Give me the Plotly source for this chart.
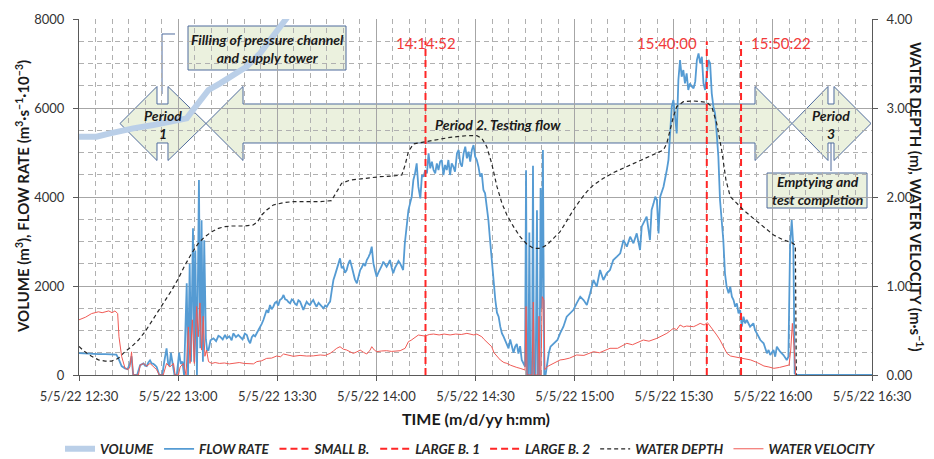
import pandas as pd
import plotly.graph_objects as go

# ---------------------------------------------------------------- data
# Time is given in minutes after 5/5/22 12:30.
START = pd.Timestamp("2022-05-05 12:30:00")

volume_readings = [  # (minute, m3)
    (0.0, 5355), (5.3, 5355), (9.4, 5430), (12.4, 5489), (16.4, 5542),
    (22.5, 5617), (28.5, 5692), (32.6, 5768), (34.1, 5917), (36.6, 6179),
    (39.2, 6404), (42.7, 6554), (46.7, 6741), (50.7, 6928), (54.8, 7228),
    (58.8, 7602), (62.8, 8014), (66.0, 8400),
]

flow_readings = [  # (minute, m3/s x 1e-3)
    (0.0, 490), (2.0, 480), (4.0, 475), (6.0, 470), (8.0, 470), (10.0, 465),
    (11.3, 460), (11.9, 380), (12.9, 200), (13.9, 150), (14.7, 130), (15.4, 250),
    (15.9, 420), (16.4, 0), (17.6, 0), (18.5, 220), (19.0, 240), (19.5, 260),
    (20.0, 210), (20.5, 200), (21.0, 280), (21.5, 330), (22.0, 260), (22.5, 250),
    (23.0, 220), (23.5, 180), (24.3, 0), (25.2, 0), (25.8, 300), (26.5, 600),
    (27.0, 250), (27.4, 200), (27.8, 500), (28.3, 300), (28.9, 0), (29.6, 0),
    (30.3, 500), (30.8, 250), (31.3, 300), (31.8, 0), (32.6, 2060), (33.0, 0),
    (33.5, 2500), (33.9, 300), (34.5, 3300), (34.9, 300), (35.2, 2800), (35.7, 0),
    (36.3, 4380), (36.7, 600), (37.1, 3480), (37.5, 300), (37.9, 3030), (38.4, 800),
    (38.8, 550), (39.2, 560), (39.8, 780), (40.7, 824), (41.5, 760), (42.2, 880),
    (42.7, 861), (43.5, 800), (44.2, 900), (44.7, 824), (45.5, 870), (46.2, 780),
    (46.7, 936), (47.5, 850), (48.2, 900), (48.7, 861), (49.5, 800), (50.2, 930),
    (50.8, 899), (51.3, 780), (51.8, 712), (52.3, 850), (52.8, 899), (53.3, 870),
    (53.8, 936), (54.3, 1000), (54.8, 1086), (55.3, 1150), (55.8, 1236), (56.3, 1350),
    (56.8, 1460), (57.3, 1400), (57.8, 1573), (58.3, 1480), (58.8, 1535), (59.3, 1620),
    (59.8, 1648), (60.3, 1560), (60.8, 1685), (61.4, 1720), (61.9, 1798), (62.4, 1700),
    (62.9, 1685), (63.4, 1640), (63.9, 1610), (64.4, 1700), (64.9, 1670), (65.4, 1600),
    (65.9, 1573), (66.4, 1680), (66.9, 1648), (67.4, 1560), (67.9, 1460), (68.4, 1560),
    (68.9, 1648), (69.4, 1600), (69.9, 1573), (70.4, 1640), (70.9, 1685), (71.4, 1600),
    (71.9, 1535), (72.5, 1620), (73.0, 1573), (73.5, 1520), (74.0, 1498), (74.5, 1560),
    (75.0, 1535), (75.5, 1600), (76.0, 1648), (76.5, 1900), (77.0, 2135), (77.5, 2250),
    (78.0, 2359), (78.5, 2500), (79.0, 2621), (79.5, 2400), (80.0, 2434), (80.5, 2300),
    (81.0, 2359), (81.5, 2500), (82.0, 2584), (82.5, 2450), (83.0, 2322), (83.5, 2150),
    (84.1, 2060), (84.6, 2250), (85.1, 2359), (85.6, 2420), (86.1, 2509), (86.6, 2450),
    (87.1, 2584), (87.6, 2650), (88.1, 2734), (88.6, 2884), (89.1, 2509), (89.6, 2350),
    (90.1, 2210), (90.6, 2300), (91.1, 2359), (91.6, 2450), (92.1, 2547), (92.6, 2480),
    (93.1, 2434), (93.6, 2500), (94.1, 2584), (94.6, 2420), (95.1, 2285), (95.6, 2400),
    (96.2, 2509), (96.7, 2560), (97.2, 2509), (97.7, 2420), (98.1, 2359), (98.6, 2950),
    (99.2, 3400), (99.7, 3707), (100.2, 3857), (100.7, 4007), (101.2, 4382), (101.7, 4531),
    (102.2, 4756), (102.7, 4232), (103.3, 3970), (103.8, 4494), (104.3, 4457), (104.8, 4606),
    (105.3, 4531), (105.8, 4981), (106.3, 4644), (106.8, 4794), (107.3, 4606), (107.8, 4531),
    (108.3, 4756), (108.8, 4606), (109.3, 4794), (109.8, 4831), (110.3, 4494), (110.8, 4719),
    (111.3, 4606), (111.8, 4831), (112.3, 4494), (112.8, 4756), (113.3, 4681), (113.8, 4569),
    (114.4, 4981), (114.9, 5056), (115.4, 4756), (115.9, 4681), (116.4, 4981), (116.9, 5131),
    (117.4, 4869), (117.9, 5018), (118.4, 4794), (118.9, 5056), (119.4, 5168), (119.9, 4906),
    (120.4, 4831), (120.9, 4681), (121.4, 4457), (121.9, 4531), (122.4, 4157), (122.9, 4082),
    (123.4, 3782), (123.9, 3483), (124.4, 3033), (124.9, 2584), (125.5, 2135), (126.0, 1685),
    (126.5, 1400), (127.0, 1311), (127.5, 1086), (128.0, 936), (128.5, 861), (129.0, 786),
    (129.5, 700), (130.0, 600), (130.5, 800), (131.0, 650), (131.5, 500), (132.0, 637),
    (132.5, 700), (133.0, 480), (133.5, 650), (134.0, 337), (134.5, 250), (135.0, 187),
    (135.3, 4600), (135.6, 0), (136.0, 0), (136.3, 3200), (136.6, 0), (137.1, 0),
    (137.4, 4700), (137.7, 0), (138.2, 0), (138.6, 3700), (138.9, 0), (139.4, 0),
    (139.7, 4200), (140.0, 1500), (140.4, 5056), (140.8, 0), (141.2, 0), (141.7, 300),
    (142.2, 500), (142.7, 637), (143.7, 700), (144.8, 786), (145.6, 936), (146.6, 1086),
    (147.6, 1311), (148.6, 1386), (149.6, 1460), (150.6, 1610), (151.7, 1760), (152.7, 1685),
    (153.7, 1573), (154.7, 1835), (155.7, 2135), (156.7, 1985), (157.7, 2359), (158.7, 2135),
    (159.7, 2284), (160.7, 2359), (161.7, 2584), (162.8, 2659), (163.8, 2734), (164.8, 3033),
    (165.8, 2884), (166.8, 3108), (167.8, 2959), (168.8, 3183), (169.8, 2809), (170.3, 3333),
    (170.8, 3408), (171.8, 3558), (172.8, 3033), (173.3, 3708), (173.9, 3857), (174.4, 4007),
    (174.9, 3932), (175.4, 3183), (175.9, 4007), (176.9, 4232), (177.9, 4606), (178.4, 4831),
    (178.9, 5430), (179.4, 6029), (179.9, 6179), (180.4, 5730), (180.9, 5430), (181.4, 6629),
    (181.9, 7078), (182.4, 6704), (182.9, 6854), (183.4, 6554), (183.9, 6779), (184.4, 6404),
    (184.9, 6554), (185.5, 6479), (186.0, 6442), (186.5, 6592), (187.0, 7078), (187.5, 7228),
    (188.0, 7004), (188.5, 7153), (189.0, 6554), (189.5, 6404), (190.0, 6779), (190.5, 7078),
    (191.0, 7004), (191.5, 6329), (192.0, 6029), (192.5, 5880), (193.0, 5430), (193.5, 4906),
    (194.0, 3932), (194.5, 3558), (195.0, 3033), (195.5, 2284), (196.0, 1985), (196.6, 1835),
    (197.1, 1985), (197.6, 1760), (198.1, 1685), (198.6, 1535), (199.1, 1610), (199.6, 1386),
    (200.1, 1460), (200.6, 1086), (201.1, 1311), (201.6, 1161), (202.1, 1236), (203.1, 1086),
    (204.1, 1161), (204.6, 1011), (205.2, 936), (206.2, 786), (207.2, 712), (208.2, 487),
    (208.7, 562), (209.2, 449), (210.2, 562), (210.7, 412), (211.2, 637), (212.2, 524),
    (213.2, 449), (214.2, 337), (214.7, 412), (215.2, 2884), (215.7, 3483), (216.2, 2884),
    (216.6, 37), (217.1, 0), (240.0, 0),
]

depth_readings = [  # (minute, m)
    (0.0, 0.32), (1.8, 0.26), (3.8, 0.21), (5.9, 0.17), (7.9, 0.157), (9.9, 0.157),
    (11.9, 0.187), (13.9, 0.262), (15.9, 0.318), (18.0, 0.393), (20.0, 0.487),
    (22.0, 0.599), (24.0, 0.712), (26.0, 0.824), (28.1, 0.955), (30.1, 1.086),
    (32.1, 1.236), (34.1, 1.367), (36.1, 1.479), (38.1, 1.554), (40.2, 1.61),
    (42.2, 1.648), (44.2, 1.667), (46.2, 1.674), (49.7, 1.674), (52.7, 1.685),
    (54.0, 1.72), (55.3, 1.798), (56.8, 1.854), (58.8, 1.91), (61.8, 1.936),
    (64.8, 1.948), (68.9, 1.948), (72.9, 1.948), (76.4, 1.959), (78.0, 2.06),
    (79.5, 2.154), (82.0, 2.19), (86.0, 2.21), (91.1, 2.228), (95.1, 2.236),
    (97.7, 2.247), (98.7, 2.36), (99.7, 2.51), (101.2, 2.596), (103.3, 2.61),
    (107.3, 2.633), (112.3, 2.67), (117.4, 2.689), (120.4, 2.689), (121.9, 2.66),
    (123.4, 2.566), (124.9, 2.378), (126.5, 2.116), (128.0, 1.929), (129.5, 1.798),
    (131.5, 1.667), (133.5, 1.554), (135.5, 1.472), (137.6, 1.423), (139.6, 1.423),
    (141.6, 1.461), (143.6, 1.536), (145.6, 1.61), (147.6, 1.73), (149.6, 1.854),
    (151.7, 1.966), (153.7, 2.06), (155.7, 2.135), (158.7, 2.21), (161.7, 2.273),
    (165.8, 2.34), (169.8, 2.408), (173.9, 2.472), (176.9, 2.528), (177.9, 2.603),
    (178.9, 2.753), (179.9, 2.903), (180.9, 3.015), (182.9, 3.071), (186.0, 3.079),
    (190.0, 3.064), (191.5, 3.015), (193.0, 2.828), (194.5, 2.528), (195.8, 2.19),
    (197.1, 2.004), (199.1, 1.929), (201.1, 1.854), (204.1, 1.76), (207.2, 1.667),
    (210.2, 1.573), (213.2, 1.517), (215.7, 1.487), (216.8, 1.461), (217.1, 0.0),
]

velocity_readings = [  # (minute, m/s)
    (0.0, 0.62), (2.0, 0.65), (3.8, 0.69), (5.0, 0.70), (5.9, 0.71), (7.0, 0.70),
    (8.0, 0.71), (9.0, 0.72), (10.0, 0.70), (10.9, 0.72), (11.7, 0.69), (12.1, 0.43),
    (12.9, 0.21), (13.9, 0.08), (14.9, 0.06), (15.4, 0.09), (15.9, 0.26), (16.4, 0.0),
    (18.0, 0.0), (18.5, 0.11), (19.5, 0.13), (20.5, 0.10), (21.5, 0.13), (22.5, 0.09),
    (23.5, 0.06), (24.3, 0.0), (25.5, 0.0), (26.5, 0.13), (27.5, 0.09), (28.6, 0.13),
    (29.1, 0.0), (30.1, 0.0), (30.6, 0.09), (31.6, 0.13), (32.4, 0.0), (33.1, 0.54),
    (33.6, 0.13), (34.3, 0.62), (34.9, 0.13), (35.6, 0.77), (36.1, 0.43), (36.6, 0.81),
    (37.1, 0.28), (37.6, 0.66), (38.1, 0.21), (38.6, 0.28), (39.2, 0.15), (40.2, 0.13),
    (41.2, 0.14), (42.5, 0.13), (44.0, 0.135), (45.5, 0.125), (46.7, 0.13), (48.5, 0.14),
    (50.0, 0.13), (51.5, 0.125), (52.8, 0.125), (53.8, 0.15), (55.3, 0.16), (56.8, 0.187),
    (58.3, 0.19), (59.8, 0.213), (61.0, 0.205), (61.9, 0.236), (63.5, 0.22), (64.9, 0.21),
    (66.9, 0.22), (68.9, 0.213), (70.9, 0.215), (73.0, 0.225), (74.5, 0.22), (76.0, 0.243),
    (77.0, 0.27), (78.0, 0.30), (79.0, 0.318), (80.0, 0.29), (81.0, 0.281), (82.0, 0.265),
    (83.0, 0.243), (84.1, 0.26), (85.1, 0.28), (86.1, 0.255), (87.1, 0.236), (88.1, 0.28),
    (88.6, 0.318), (89.4, 0.28), (90.1, 0.262), (91.6, 0.27), (93.1, 0.273), (94.6, 0.265),
    (96.2, 0.27), (97.2, 0.273), (98.7, 0.30), (99.7, 0.375), (100.5, 0.39), (101.2, 0.412),
    (102.0, 0.43), (102.7, 0.449), (104.7, 0.438), (106.0, 0.455), (107.3, 0.46),
    (109.0, 0.45), (110.5, 0.46), (112.3, 0.45), (114.0, 0.46), (115.7, 0.455),
    (117.4, 0.468), (119.5, 0.45), (120.4, 0.46), (121.9, 0.43), (122.6, 0.40),
    (123.4, 0.375), (124.9, 0.318), (125.6, 0.25), (126.5, 0.206), (127.5, 0.169),
    (128.6, 0.14), (129.5, 0.131), (130.6, 0.11), (131.5, 0.094), (132.5, 0.085),
    (133.5, 0.075), (134.5, 0.06), (135.0, 0.056), (135.3, 0.77), (135.6, 0.0),
    (137.1, 0.0), (137.5, 0.82), (137.8, 0.0), (138.9, 0.0), (139.2, 0.66), (139.5, 0.0),
    (139.8, 0.0), (140.2, 0.88), (140.7, 0.84), (141.0, 0.06), (141.7, 0.094),
    (143.7, 0.131), (145.6, 0.169), (146.8, 0.175), (148.5, 0.19), (150.6, 0.225),
    (152.8, 0.22), (155.7, 0.262), (157.5, 0.25), (160.7, 0.30), (163.0, 0.30),
    (165.8, 0.356), (167.5, 0.34), (170.8, 0.393), (172.5, 0.38), (174.9, 0.412),
    (176.5, 0.44), (177.9, 0.468), (179.9, 0.524), (180.9, 0.51), (181.9, 0.562),
    (183.0, 0.54), (183.9, 0.55), (186.0, 0.543), (187.0, 0.56), (188.0, 0.58),
    (189.2, 0.562), (190.2, 0.588), (191.0, 0.55), (192.0, 0.506), (193.0, 0.45),
    (194.0, 0.393), (195.0, 0.32), (196.1, 0.243), (197.2, 0.213), (198.8, 0.20),
    (200.3, 0.187), (201.8, 0.18), (203.3, 0.169), (205.3, 0.139), (207.3, 0.101),
    (208.8, 0.09), (210.3, 0.075), (212.0, 0.085), (213.4, 0.094), (214.9, 0.112),
    (215.4, 0.28), (215.9, 0.58), (216.4, 0.33), (216.9, 0.0),
]

# Moments the small and large branches were switched.
branch_names = ["SMALL B.", "LARGE B. 1", "LARGE B. 2"]
branch_clock = ["14:14:52", "15:40:00", "15:50:22"]
branch_line_top = 7500

x_tick_step_min = 30
x_minor_step_min = 5


def at(minutes):
    return [START + pd.Timedelta(minutes=m) for m in minutes]


def split(readings):
    t, v = zip(*readings)
    return at(t), list(v)


# ---------------------------------------------------------------- figure
fig = go.Figure()

vx, vy = split(volume_readings)
fig.add_trace(go.Scatter(x=vx, y=vy, name="VOLUME", mode="lines",
                         line=dict(color="#bacfe8", width=6)))

fx, fy = split(flow_readings)
fig.add_trace(go.Scatter(x=fx, y=fy, name="FLOW RATE", mode="lines",
                         line=dict(color="#559bd3", width=1.8)))

label_anchor = {"14:14:52": ("center", 0), "15:40:00": ("right", -8), "15:50:22": ("left", 8)}
for name, clock in zip(branch_names, branch_clock):
    t = pd.Timestamp(f"{START:%Y-%m-%d} {clock}")
    fig.add_trace(go.Scatter(x=[t, t], y=[0, branch_line_top], name=name,
                             mode="lines",
                             line=dict(color="#ff2626", width=2, dash="7px,4px")))
    anchor, shift = label_anchor[clock]
    fig.add_annotation(x=t, y=7460, xref="x", yref="y", text=clock, showarrow=False,
                       xanchor=anchor, xshift=shift,
                       font=dict(size=15, color="#f23a3a"))

dx, dy = split(depth_readings)
fig.add_trace(go.Scatter(x=dx, y=dy, name="WATER DEPTH", mode="lines", yaxis="y2",
                         line=dict(color="#262626", width=1.2, dash="4px,3px")))

wx, wy = split(velocity_readings)
fig.add_trace(go.Scatter(x=wx, y=wy, name="WATER VELOCITY", mode="lines", yaxis="y2",
                         line=dict(color="#f05a55", width=1)))

# ---------------------------------------------------------------- period arrows
# Plot box in pixels (left, right, top, bottom) for placing decorations.
L, R, T, B = 79, 872, 19, 375


def px(x, y):
    return (x - L) / (R - L), (B - y) / (B - T)


def path(points, close=True):
    parts = []
    for i, (x, y) in enumerate(points):
        u, v = px(x, y)
        parts.append(("M" if i == 0 else "L") + f"{u:.5f},{v:.5f}")
    return " ".join(parts) + (" Z" if close else "")


def double_arrow(x_left, head_l, head_r, x_right, yc=123.5, hh=37, sh=19.5):
    return path([
        (x_left, yc), (head_l, yc - hh), (head_l, yc - sh), (head_r, yc - sh),
        (head_r, yc - hh), (x_right, yc), (head_r, yc + hh), (head_r, yc + sh),
        (head_l, yc + sh), (head_l, yc + hh),
    ])


FILL = "#ebf1de"
EDGE = "#4f6b9c"
for p in (double_arrow(120, 157, 168, 206),
          double_arrow(206, 243, 755, 792),
          double_arrow(792, 828, 834, 871)):
    fig.add_shape(type="path", path=p, xref="paper", yref="paper", layer="below",
                  fillcolor=FILL, line=dict(color=EDGE, width=1))

for x0, y0, x1, y1 in ((188, 26, 346, 70), (767, 173, 867, 208)):
    u0, v0 = px(x0, y0)
    u1, v1 = px(x1, y1)
    fig.add_shape(type="rect", x0=u0, y0=v1, x1=u1, y1=v0, xref="paper", yref="paper",
                  layer="below", fillcolor=FILL, line=dict(color=EDGE, width=1))

for pts in (((162, 94), (162, 34), (175, 34)), ((831, 143), (831, 171))):
    fig.add_shape(type="path", path=path(pts, close=False), xref="paper", yref="paper",
                  layer="below", line=dict(color=EDGE, width=1))

note_font = dict(size=14, color="#1a1a1a", style="italic", weight="bold")
for text, x, y in (("Filling of pressure channel<br>and supply tower", 267, 48),
                   ("Period<br>1", 163, 124),
                   ("Period 2. Testing flow", 498, 124),
                   ("Period<br>3", 831, 124),
                   ("Emptying and<br>test completion", 817, 191)):
    u, v = px(x, y)
    fig.add_annotation(x=u, y=v, xref="paper", yref="paper", text=text, showarrow=False,
                       xanchor="center", yanchor="middle", font=note_font)

# ---------------------------------------------------------------- axis titles
title_font = dict(size=15, color="#1a1a1a", weight="bold")
for text, x, y, angle, size in (
        ("VOLUME (m<sup>3</sup>), FLOW RATE (m<sup>3</sup>·s<sup>−1</sup>·10<sup>−3</sup>)",
         22, 197, -90, 15),
        ("WATER DEPTH (m), WATER VELOCITY (m·s<sup>−1</sup>)", 917, 197, 90, 15),
        ("TIME (m/d/yy h:mm)", 476, 418, 0, 16)):
    u, v = px(x, y)
    fig.add_annotation(x=u, y=v, xref="paper", yref="paper", text=text, showarrow=False,
                       textangle=angle, xanchor="center", yanchor="middle",
                       font=dict(title_font, size=size))

# ---------------------------------------------------------------- layout
grid = "#a6a6a6"
minor_grid = dict(showgrid=True, gridcolor="#b0b0b0", griddash="5px,4px", gridwidth=1)
axis_common = dict(showline=True, linecolor="#595959", linewidth=1, ticks="outside",
                   ticklen=5, tickcolor="#595959", zeroline=False,
                   tickfont=dict(size=13, color="#333333"))

legend_x, legend_y = px(60, 449)

fig.update_layout(
    width=934, height=459,
    margin=dict(l=L, r=934 - R, t=T, b=459 - B, autoexpand=False),
    paper_bgcolor="white", plot_bgcolor="rgba(0,0,0,0)",
    font=dict(family="Lato, 'Open Sans', sans-serif", color="#262626"),
    showlegend=True,
    legend=dict(orientation="h", x=legend_x, xanchor="left", y=legend_y, yanchor="middle",
                itemwidth=30, bgcolor="rgba(0,0,0,0)",
                font=dict(size=13.5, color="#262626", style="italic", weight="bold")),
    xaxis=dict(type="date",
               range=[START, START + pd.Timedelta(minutes=240)],
               tick0=START, dtick=x_tick_step_min * 60000,
               tickformat="%-m/%-d/%y %H:%M", ticklabelstandoff=4,
               showgrid=True, gridcolor=grid, gridwidth=1,
               minor=dict(dtick=x_minor_step_min * 60000, **minor_grid),
               **axis_common),
    yaxis=dict(range=[0, 8000], dtick=2000, tickformat="d", ticklabelstandoff=6,
               showgrid=True, gridcolor=grid, gridwidth=1,
               minor=dict(dtick=500, **minor_grid), **axis_common),
    yaxis2=dict(range=[0, 4], dtick=1, tickformat=".2f", overlaying="y", side="right",
                ticklabelstandoff=6, showgrid=False, **axis_common),
)

fig.write_html("out.html")
